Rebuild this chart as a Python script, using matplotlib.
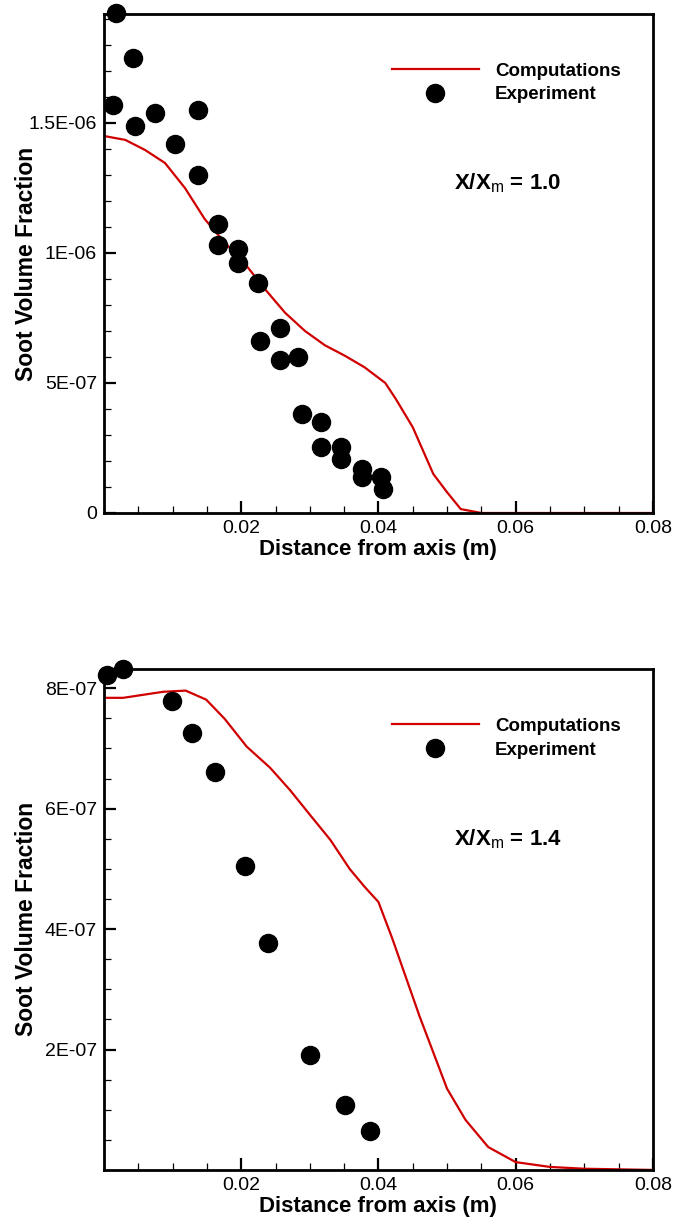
import matplotlib
matplotlib.use('Agg')
import matplotlib.pyplot as plt
from matplotlib.ticker import FixedLocator, FixedFormatter, MultipleLocator

plt.rcParams['font.family'] = ['Liberation Sans', 'DejaVu Sans']
plt.rcParams['mathtext.fontset'] = 'custom'
plt.rcParams['mathtext.rm'] = 'Liberation Sans'
plt.rcParams['mathtext.bf'] = 'Liberation Sans:bold'

# ---- X/Xm = 1.0 ----
exp1_x = [0.0017, 0.0013, 0.0042, 0.0045, 0.0074, 0.0103, 0.0137, 0.0137,
          0.0166, 0.0166, 0.0195, 0.0195, 0.0224, 0.0227, 0.0256, 0.0256,
          0.0283, 0.0289, 0.0316, 0.0316, 0.0345, 0.0345, 0.0376, 0.0376,
          0.0404, 0.0407]
exp1_y = [1.923e-6, 1.569e-6, 1.75e-6, 1.49e-6, 1.54e-6, 1.42e-6, 1.55e-6, 1.30e-6,
          1.11e-6, 1.03e-6, 1.015e-6, 0.96e-6, 0.885e-6, 0.66e-6, 0.71e-6, 0.59e-6,
          0.60e-6, 0.38e-6, 0.35e-6, 0.254e-6, 0.254e-6, 0.208e-6, 0.169e-6, 0.138e-6,
          0.138e-6, 0.092e-6]
comp1_x = [0.0, 0.0031, 0.006, 0.0089, 0.0118, 0.0147, 0.0176, 0.0205, 0.0235,
           0.0264, 0.0293, 0.0322, 0.0351, 0.038, 0.041, 0.0425, 0.045, 0.048,
           0.050, 0.052, 0.055, 0.08]
comp1_y = [1.45e-6, 1.435e-6, 1.396e-6, 1.346e-6, 1.25e-6, 1.13e-6, 1.04e-6, 0.96e-6,
           0.86e-6, 0.77e-6, 0.70e-6, 0.645e-6, 0.605e-6, 0.56e-6, 0.50e-6, 0.44e-6,
           0.33e-6, 0.15e-6, 0.08e-6, 0.015e-6, 0.0, 0.0]

# ---- X/Xm = 1.4 ----
exp2_x = [0.00044, 0.0028, 0.0099, 0.0128, 0.0162, 0.0206, 0.0239, 0.0300, 0.0351, 0.0388]
exp2_y = [0.822e-6, 0.832e-6, 0.779e-6, 0.726e-6, 0.661e-6, 0.505e-6, 0.377e-6,
          0.191e-6, 0.108e-6, 0.065e-6]
comp2_x = [0.0, 0.0028, 0.0086, 0.0119, 0.0149, 0.0176, 0.0208, 0.0242, 0.0271,
           0.030, 0.033, 0.0358, 0.038, 0.040, 0.042, 0.044, 0.046, 0.048, 0.050,
           0.0527, 0.056, 0.060, 0.065, 0.070, 0.080]
comp2_y = [0.784e-6, 0.784e-6, 0.794e-6, 0.796e-6, 0.781e-6, 0.749e-6, 0.703e-6,
           0.668e-6, 0.631e-6, 0.59e-6, 0.548e-6, 0.50e-6, 0.47e-6, 0.445e-6,
           0.385e-6, 0.32e-6, 0.255e-6, 0.195e-6, 0.135e-6, 0.083e-6, 0.038e-6,
           0.013e-6, 0.005e-6, 0.002e-6, 0.0]

x_ticks = [0.02, 0.04, 0.06, 0.08]
x_labels = ['0.02', '0.04', '0.06', '0.08']
y1_ticks = [0, 5e-7, 1e-6, 1.5e-6]
y1_labels = ['0', '5E-07', '1E-06', '1.5E-06']
y2_ticks = [2e-7, 4e-7, 6e-7, 8e-7]
y2_labels = ['2E-07', '4E-07', '6E-07', '8E-07']

RED = '#d00000'

fig = plt.figure(figsize=(6.76, 12.22), dpi=100)
ax1 = fig.add_axes([0.1538, 0.5802, 0.812, 0.4083])
ax2 = fig.add_axes([0.1538, 0.0426, 0.812, 0.41])


def style_axes(ax, yt, yl, yminor, ymax, label):
    ax.set_xlim(0, 0.08)
    ax.set_ylim(0, ymax)
    ax.xaxis.set_major_locator(FixedLocator(x_ticks))
    ax.xaxis.set_major_formatter(FixedFormatter(x_labels))
    ax.xaxis.set_minor_locator(MultipleLocator(0.005))
    ax.yaxis.set_major_locator(FixedLocator(yt))
    ax.yaxis.set_major_formatter(FixedFormatter(yl))
    ax.yaxis.set_minor_locator(MultipleLocator(yminor))
    ax.tick_params(which='both', direction='in', top=False, right=False,
                   labelsize=14, pad=5)
    ax.tick_params(which='major', length=8.5, width=1.6)
    ax.tick_params(which='minor', length=5, width=0.9)
    for s in ax.spines.values():
        s.set_linewidth(2)
    ax.set_xlabel('Distance from axis (m)', fontsize=16, fontweight='bold')
    ax.set_ylabel('Soot Volume Fraction', fontsize=16.5, fontweight='bold')
    ax.xaxis.set_label_coords(0.5, -0.052)
    ax.yaxis.set_label_coords(-0.12, 0.5)
    ax.legend(loc='upper left', bbox_to_anchor=(0.5246, 0.903), frameon=False,
              prop={'weight': 'bold', 'size': 13.5},
              handlelength=4.64, handletextpad=0.85, labelspacing=0.36,
              borderpad=0, borderaxespad=0)
    ax.text(0.736, 0.66, label, transform=ax.transAxes, ha='center', va='center',
            fontsize=16, fontweight='bold')


ax1.plot(comp1_x, comp1_y, color=RED, lw=1.6, label='Computations')
ax1.plot(exp1_x, exp1_y, 'o', color='black', ms=13, clip_on=False, zorder=5,
         label='Experiment')
style_axes(ax1, y1_ticks, y1_labels, 1e-7, 1.919e-6, r'X/X$_\mathrm{m}$ = 1.0')

ax2.plot(comp2_x, comp2_y, color=RED, lw=1.6, label='Computations')
ax2.plot(exp2_x, exp2_y, 'o', color='black', ms=13, clip_on=False, zorder=5,
         label='Experiment')
style_axes(ax2, y2_ticks, y2_labels, 5e-8, 0.832e-6, r'X/X$_\mathrm{m}$ = 1.4')

fig.savefig('out.png', dpi=100)
